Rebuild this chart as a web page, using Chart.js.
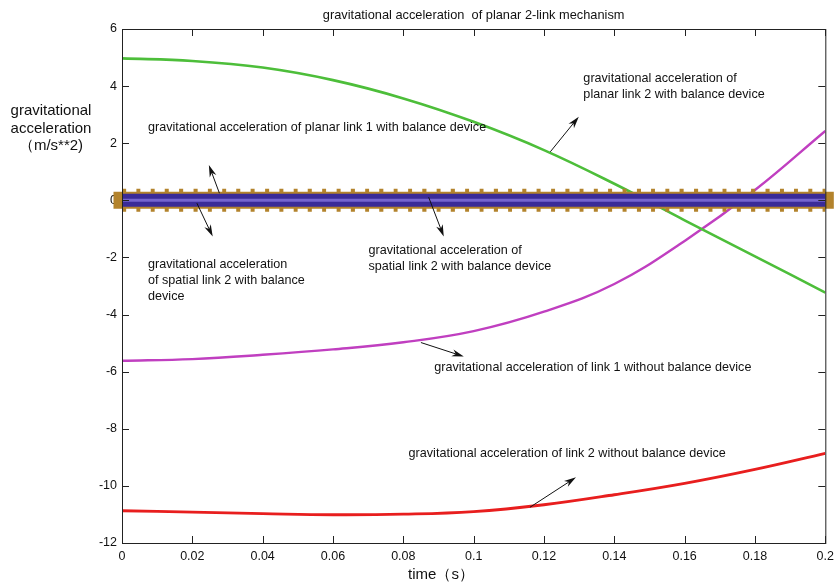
<!DOCTYPE html>
<html>
<head>
<meta charset="utf-8">
<script src="https://cdn.jsdelivr.net/npm/chart.js@4/dist/chart.umd.min.js"></script>
<style>
html,body{margin:0;padding:0;background:#fff;}
#wrap{width:840px;height:588px;}
</style>
</head>
<body>
<div id="wrap"><canvas id="chart" width="840" height="588"></canvas></div>
<script>
// DATA
const times = [0, 0.02, 0.04, 0.06, 0.08, 0.1, 0.12, 0.14, 0.16, 0.18, 0.2];
const planarLink2Balanced = [4.97, 4.88, 4.65, 4.21, 3.57, 2.75, 1.76, 0.58, -0.70, -1.96, -3.23];
const link1Unbalanced = [-5.62, -5.56, -5.41, -5.22, -4.97, -4.58, -3.90, -2.93, -1.42, 0.36, 2.43];
const link2Unbalanced = [-10.87, -10.92, -10.97, -11.01, -10.99, -10.90, -10.66, -10.31, -9.91, -9.42, -8.86];
const balancedZero = [0, 0, 0, 0, 0, 0, 0, 0, 0, 0, 0];
const xTicks = [0, 0.02, 0.04, 0.06, 0.08, 0.1, 0.12, 0.14, 0.16, 0.18, 0.2];
const xTickLabels = ['0', '0.02', '0.04', '0.06', '0.08', '0.1', '0.12', '0.14', '0.16', '0.18', '0.2'];
const yTicks = [-12, -10, -8, -6, -4, -2, 0, 2, 4, 6];

const titleText = 'gravitational acceleration  of planar 2-link mechanism';
const yLabel = ['gravitational', 'acceleration', '\uFF08m/s**2)'];
const xLabel = 'time\uFF08s\uFF09';

// annotation text (t, value of first line)
const notes = [
  {t: 0.0074, v: 2.56, lines: ['gravitational acceleration of planar link 1 with balance device']},
  {t: 0.1312, v: 4.25, lines: ['gravitational acceleration of', 'planar link 2 with balance device']},
  {t: 0.0701, v: -1.76, lines: ['gravitational acceleration of', 'spatial link 2 with balance device']},
  {t: 0.0074, v: -2.24, lines: ['gravitational acceleration', 'of spatial link 2 with balance', 'device']},
  {t: 0.0888, v: -5.86, lines: ['gravitational acceleration of link 1 without balance device']},
  {t: 0.0815, v: -8.86, lines: ['gravitational acceleration of link 2 without balance device']}
];
// arrows: tail -> head
const arrows = [
  [0.1218, 1.70, 0.1299, 2.93],
  [0.0872, 0.11, 0.0915, -1.27],
  [0.0277, 0.25, 0.0247, 1.24],
  [0.0213, -0.10, 0.0258, -1.27],
  [0.0850, -4.98, 0.0972, -5.47],
  [0.1160, -10.75, 0.1291, -9.70]
];

const pts = arr => arr.map((v, i) => ({x: times[i], y: v}));
const FONT = '"Liberation Sans", Arial, sans-serif';

function drawArrow(ctx, x1, y1, x2, y2){
  const a = Math.atan2(y2 - y1, x2 - x1), L = 12, W = 3.5;
  const c = Math.cos(a), s = Math.sin(a);
  ctx.beginPath();
  ctx.moveTo(x1, y1);
  ctx.lineTo(x2 - c * 6, y2 - s * 6);
  ctx.stroke();
  ctx.beginPath();
  ctx.moveTo(x2, y2);
  ctx.lineTo(x2 - L * c + W * s, y2 - L * s - W * c);
  ctx.lineTo(x2 - L * 0.7 * c, y2 - L * 0.7 * s);
  ctx.lineTo(x2 - L * c - W * s, y2 - L * s + W * c);
  ctx.closePath();
  ctx.fill();
}

const decor = {
  id: 'decor',
  afterDraw(chart){
    const {ctx, chartArea: a, scales: {x, y}} = chart;
    ctx.save();
    // box + inward ticks
    ctx.strokeStyle = '#222';
    ctx.lineWidth = 1;
    ctx.strokeRect(a.left + 0.5, a.top + 0.5, a.right - a.left, a.bottom - a.top);
    ctx.beginPath();
    xTicks.forEach(t => {
      const px = Math.round(x.getPixelForValue(t)) + 0.5;
      ctx.moveTo(px, a.bottom); ctx.lineTo(px, a.bottom - 7);
      ctx.moveTo(px, a.top); ctx.lineTo(px, a.top + 7);
    });
    yTicks.forEach(v => {
      const py = Math.round(y.getPixelForValue(v)) + 0.5;
      ctx.moveTo(a.left, py); ctx.lineTo(a.left + 7, py);
      ctx.moveTo(a.right, py); ctx.lineTo(a.right - 7, py);
    });
    ctx.stroke();

    // title and axis labels
    ctx.fillStyle = '#111';
    ctx.textBaseline = 'middle';
    ctx.textAlign = 'center';
    ctx.font = '12.8px ' + FONT;
    ctx.fillText(titleText, (a.left + a.right) / 2, 15);
    ctx.font = '15px ' + FONT;
    yLabel.forEach((l, i) => ctx.fillText(l, 51, 111 + i * 17.5));
    ctx.fillText(xLabel, 441, 575);

    // annotations
    ctx.textAlign = 'left';
    ctx.font = '12.6px ' + FONT;
    notes.forEach(n => {
      const px = x.getPixelForValue(n.t), py = y.getPixelForValue(n.v);
      n.lines.forEach((l, i) => ctx.fillText(l, px, py + i * 16));
    });
    ctx.strokeStyle = '#111';
    ctx.fillStyle = '#111';
    arrows.forEach(([t1, v1, t2, v2]) => {
      drawArrow(ctx, x.getPixelForValue(t1), y.getPixelForValue(v1),
        x.getPixelForValue(t2), y.getPixelForValue(v2));
    });
    ctx.restore();
  }
};

new Chart(document.getElementById('chart'), {
  type: 'line',
  data: {
    datasets: [
      // balanced links: all on zero, drawn on top as one thick band
      {label: 'spatial link 1 with balance device', data: pts(balancedZero), borderColor: '#7565cf', borderWidth: 3, order: 1, clip: false},
      {label: 'spatial link 2 with balance device', data: pts(balancedZero), borderColor: '#3a2b98', borderWidth: 13, order: 2, clip: false},
      {label: 'planar link 1 with balance device', data: pts(balancedZero), borderColor: '#b3832c', borderWidth: 17, borderCapStyle: 'square', order: 3, clip: false},
      {label: 'planar link 1 markers', data: pts(balancedZero), borderColor: '#b3832c', borderWidth: 23, borderDash: [4, 10.3], order: 4, clip: false},
      {label: 'planar link 2 with balance device', data: pts(planarLink2Balanced), borderColor: '#4dbe3a', borderWidth: 2.6, order: 5},
      {label: 'link 1 without balance device', data: pts(link1Unbalanced), borderColor: '#c03fc0', borderWidth: 2.4, order: 6},
      {label: 'link 2 without balance device', data: pts(link2Unbalanced), borderColor: '#e81e1e', borderWidth: 2.8, order: 7}
    ]
  },
  options: {
    responsive: false,
    animation: false,
    elements: {point: {radius: 0}, line: {tension: 0.4}},
    layout: {padding: {top: 29, right: 8, left: 0, bottom: 0}},
    plugins: {legend: {display: false}, tooltip: {enabled: false}},
    scales: {
      x: {
        type: 'linear', min: 0, max: 0.2,
        afterBuildTicks: s => { s.ticks = xTicks.map(v => ({value: v})); },
        afterFit: s => { s.height = 45; },
        grid: {display: false, drawTicks: false},
        border: {display: false},
        ticks: {
          callback: (v, i) => xTickLabels[i],
          font: {family: FONT, size: 12.5}, color: '#111', padding: 6,
          maxRotation: 0, autoSkip: false
        }
      },
      y: {
        type: 'linear', min: -12, max: 6,
        afterBuildTicks: s => { s.ticks = yTicks.map(v => ({value: v})); },
        afterFit: s => { s.width = 122; },
        grid: {display: false, drawTicks: false},
        border: {display: false},
        ticks: {
          callback: v => String(v),
          font: {family: FONT, size: 12.5}, color: '#111', padding: 5
        }
      }
    }
  },
  plugins: [decor]
});
</script>
</body>
</html>
